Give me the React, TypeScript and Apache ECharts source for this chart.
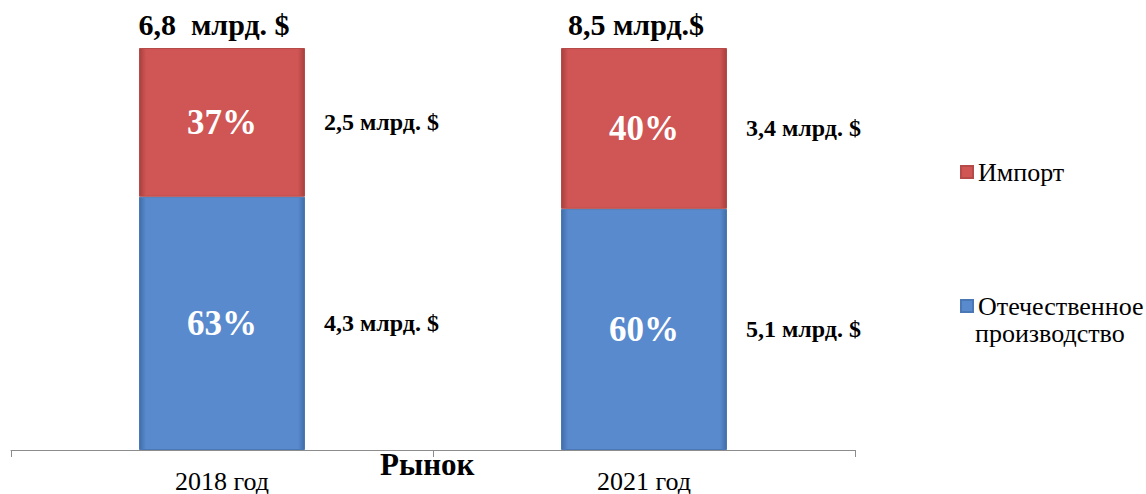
import React, { useEffect, useRef } from "react";
import * as echarts from "echarts";

const categories = ["2018 год", "2021 год"];
const domesticShare = [63, 60];
const importShare = [37, 40];
const domesticAmount = ["4,3 млрд. $", "5,1 млрд. $"];
const importAmount = ["2,5 млрд. $", "3,4 млрд. $"];
const totalLabels = ["6,8  млрд. $", "8,5 млрд.$"];
const seriesNames = ["Импорт", "Отечественное производство"];
const axisName = "Рынок";

const FONT = "Liberation Serif, Times New Roman, serif";

function bevel(dark: string, main: string) {
  return new echarts.graphic.LinearGradient(0, 0, 1, 0, [
    { offset: 0, color: dark },
    { offset: 0.04, color: main },
    { offset: 0.96, color: main },
    { offset: 1, color: dark },
  ]);
}

export default function App() {
  const ref = useRef<HTMLDivElement>(null);
  useEffect(() => {
    document.body.style.margin = "0";
    const chart = echarts.init(ref.current!, null, { renderer: "svg" });
    const red = bevel("#a8403e", "#cf5654");
    const blue = bevel("#3f6ea8", "#598ace");
    const barWidth = 166;
    const legendText = { fontFamily: FONT, fontSize: 26, color: "#000" };
    chart.setOption({
      animation: false,
      backgroundColor: "#ffffff",
      textStyle: { fontFamily: FONT },
      grid: { left: 11, right: 291, top: 48, bottom: 44 },
      legend: [
        {
          orient: "vertical",
          left: 955,
          top: 154,
          itemWidth: 12,
          itemHeight: 12,
          itemGap: 6,
          icon: "rect",
          data: [seriesNames[0]],
          textStyle: legendText,
        },
        {
          orient: "vertical",
          left: 955,
          top: 288,
          itemWidth: 12,
          itemHeight: 12,
          itemGap: 6,
          icon: "rect",
          data: [seriesNames[1]],
          formatter: (n: string) => n.split(" ")[0],
          textStyle: legendText,
        },
      ],
      xAxis: {
        type: "category",
        data: categories,
        axisLine: { lineStyle: { color: "#8c8c8c", width: 1 } },
        axisTick: { show: true, length: 7, lineStyle: { color: "#8c8c8c" } },
        axisLabel: { fontFamily: FONT, fontSize: 26, color: "#000", margin: 18 },
      },
      yAxis: { type: "value", min: 0, max: 100, show: false, splitLine: { show: false } },
      graphic: [
        {
          type: "text",
          left: 380,
          top: 449,
          style: { text: axisName, fontFamily: FONT, fontSize: 31, fontWeight: "bold", fill: "#000" },
        },
        {
          type: "text",
          left: 975,
          top: 320,
          style: { text: seriesNames[1].split(" ")[1], fontFamily: FONT, fontSize: 26, fill: "#000" },
        },
      ],
      series: [
        {
          name: "Отечественное производство",
          type: "bar",
          stack: "a",
          barWidth,
          data: domesticShare,
          itemStyle: { color: blue, borderColor: "#4a78b5", borderWidth: 1 },
          label: {
            show: true,
            position: "inside",
            formatter: "{c}%",
            fontFamily: FONT,
            fontSize: 35,
            fontWeight: "bold",
            color: "#fff",
          },
        },
        {
          name: "Импорт",
          type: "bar",
          stack: "a",
          barWidth,
          data: importShare,
          itemStyle: { color: red, borderColor: "#b54a48", borderWidth: 1 },
          label: {
            show: true,
            position: "inside",
            formatter: "{c}%",
            fontFamily: FONT,
            fontSize: 35,
            fontWeight: "bold",
            color: "#fff",
          },
        },
        {
          name: "domLabel",
          type: "bar",
          stack: "b",
          barWidth,
          barGap: "-100%",
          data: domesticShare,
          itemStyle: { color: "transparent" },
          silent: true,
          label: {
            show: true,
            position: "right",
            distance: 19,
            formatter: (p: any) => domesticAmount[p.dataIndex],
            fontFamily: FONT,
            fontSize: 24,
            fontWeight: "bold",
            color: "#000",
          },
        },
        {
          name: "impLabel",
          type: "bar",
          stack: "b",
          barWidth,
          barGap: "-100%",
          data: importShare,
          itemStyle: { color: "transparent" },
          silent: true,
          label: {
            show: true,
            position: "right",
            distance: 19,
            formatter: (p: any) => importAmount[p.dataIndex],
            fontFamily: FONT,
            fontSize: 24,
            fontWeight: "bold",
            color: "#000",
          },
        },
        {
          name: "totals",
          type: "custom",
          silent: true,
          data: categories.map((_, i) => [i, 100]),
          renderItem: (params: any, api: any) => {
            const p = api.coord([api.value(0), api.value(1)]);
            return {
              type: "text",
              x: p[0] - 8,
              y: p[1] - 24,
              style: {
                text: totalLabels[params.dataIndex],
                fontFamily: FONT,
                fontSize: 30,
                fontWeight: "bold",
                fill: "#000",
                align: "center",
                verticalAlign: "middle",
              },
            };
          },
        },
      ],
    });
    return () => chart.dispose();
  }, []);
  return <div ref={ref} style={{ width: 1146, height: 494 }} />;
}
